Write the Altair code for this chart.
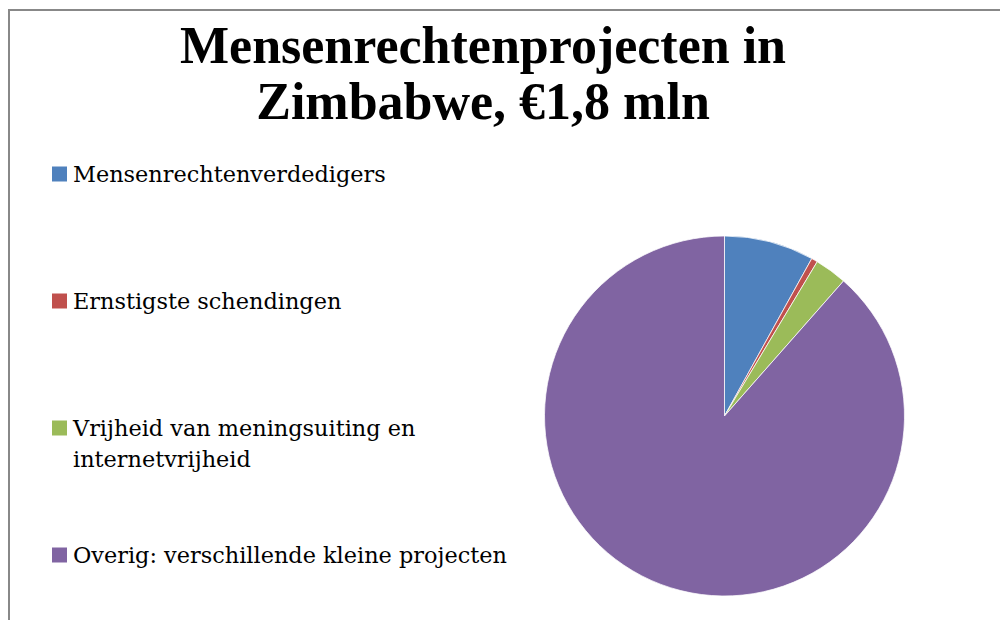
import altair as alt
import pandas as pd

categories = [
    "Mensenrechtenverdedigers",
    "Ernstigste schendingen",
    "Vrijheid van meningsuiting en internetvrijheid",
    "Overig: verschillende kleine projecten",
]
legend_lines = [
    ["Mensenrechtenverdedigers"],
    ["Ernstigste schendingen"],
    ["Vrijheid van meningsuiting en", "internetvrijheid"],
    ["Overig: verschillende kleine projecten"],
]
values = [145, 10, 52, 1593]  # thousands of euro, total ~1.8 mln
colors = ["#4F81BD", "#C0504D", "#9BBB59", "#8064A2"]
title_lines = ["Mensenrechtenprojecten in", "Zimbabwe, \u20ac1,8 mln"]

TITLE_FONT = "Liberation Serif"
LEGEND_FONT = "DejaVu Serif"

df = pd.DataFrame({
    "category": categories,
    "value": values,
    "order": list(range(len(categories))),
    "lines": legend_lines,
})

color_scale = alt.Scale(domain=categories, range=colors)

pie = alt.Chart(df).mark_arc(outerRadius=180, stroke="white", strokeWidth=0.75).encode(
    theta=alt.Theta("value:Q", stack=True),
    color=alt.Color("category:N", scale=color_scale, legend=None),
    order=alt.Order("order:Q"),
    x=alt.value(716.5),
    y=alt.value(408),
)

legend_y = alt.Y(
    "category:N",
    scale=alt.Scale(type="point", domain=categories, range=[166, 547], padding=0),
    axis=None,
)

leg_sq = alt.Chart(df).mark_square(size=225, opacity=1).encode(
    x=alt.value(51.5),
    y=legend_y,
    color=alt.Color("category:N", scale=color_scale, legend=None),
)

leg_txt = alt.Chart(df).mark_text(
    align="left", baseline="top", font=LEGEND_FONT, fontSize=22.4, lineHeight=31, dy=-10.5, color="black"
).encode(
    x=alt.value(65),
    y=legend_y,
    text="lines",
)

title_df = pd.DataFrame({"t": [title_lines]})
title = alt.Chart(title_df).mark_text(
    align="center", baseline="alphabetic", font=TITLE_FONT, fontWeight="bold", fontSize=52,
    lineHeight=56, color="black"
).encode(
    x=alt.value(475),
    y=alt.value(55),
    text="t",
)

border_top = alt.Chart(df).mark_rule(color="#888888", strokeWidth=2).encode(
    x=alt.value(0), x2=alt.value(992), y=alt.value(2)
)
border_left = alt.Chart(df).mark_rule(color="#888888", strokeWidth=2).encode(
    x=alt.value(1), y=alt.value(2), y2=alt.value(612)
)

chart = alt.layer(border_top, border_left, pie, leg_sq, leg_txt, title).resolve_scale(
    y="independent"
).properties(
    width=992, height=612, autosize=alt.AutoSizeParams(type="none"), padding=0
).configure_view(stroke=None)

chart.save("out.html", embed_options={"renderer": "svg", "actions": False})
